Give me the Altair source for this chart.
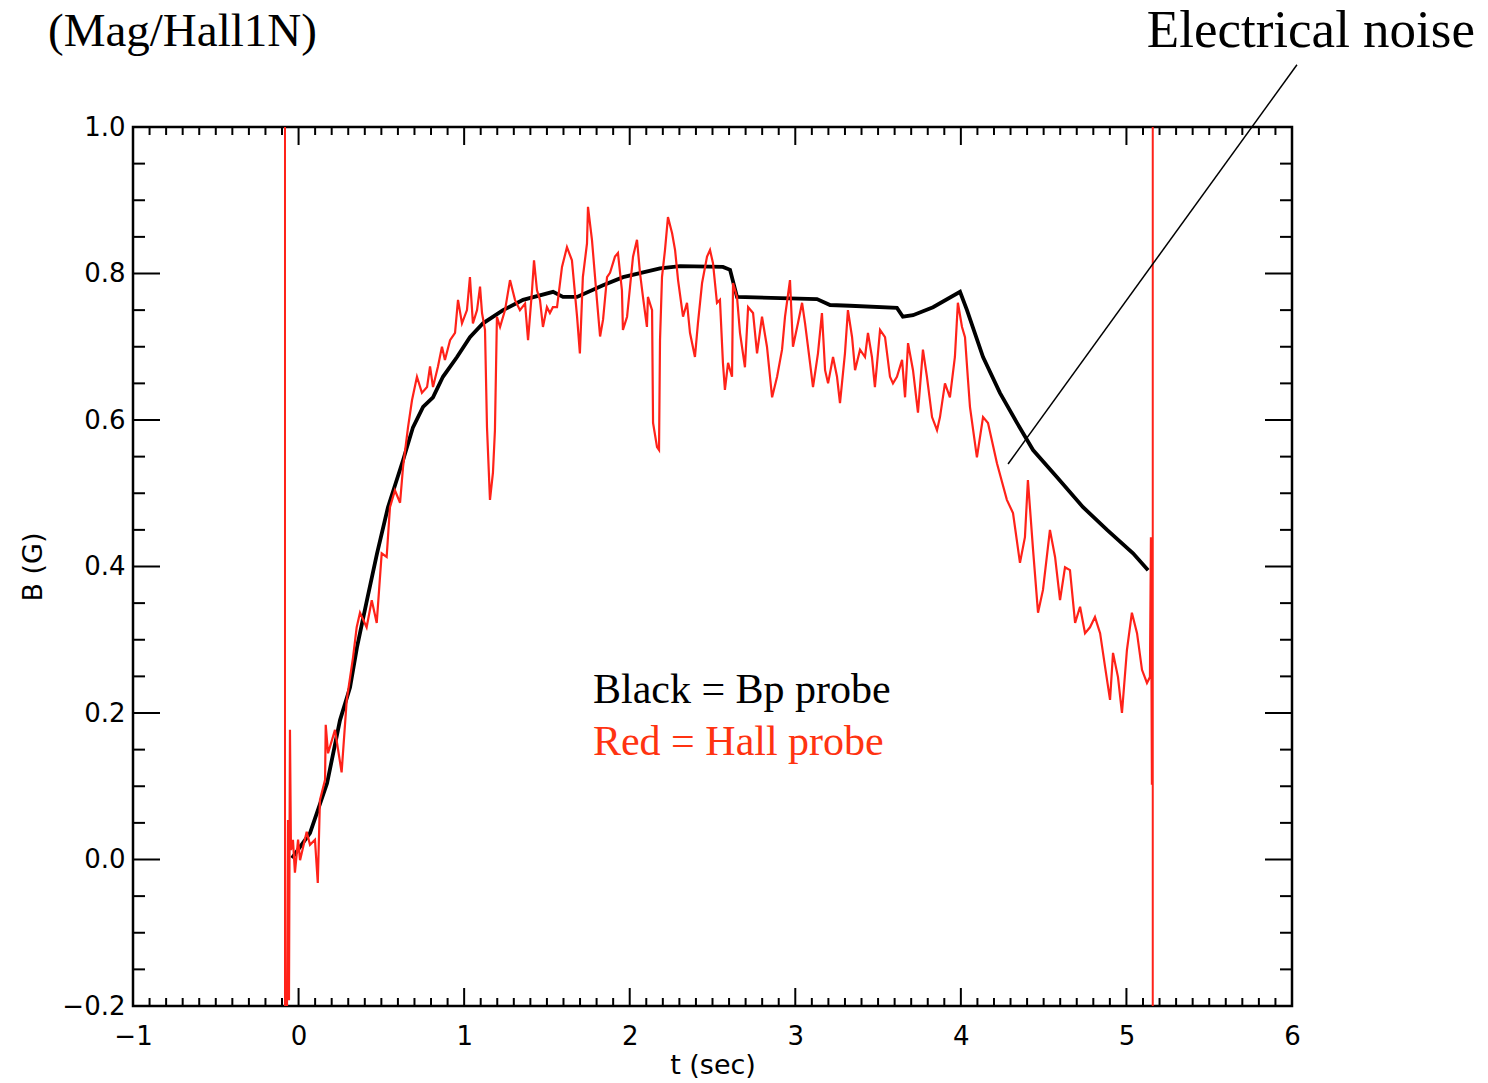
import altair as alt
import pandas as pd

# ---------------- data ----------------
black_t = [-0.040, 0.069, 0.172, 0.250, 0.311, 0.353, 0.414, 0.474, 0.540, 0.631,
           0.691, 0.752, 0.812, 0.872, 0.957, 1.035, 1.114, 1.235, 1.356, 1.537,
           1.597, 1.682, 1.839, 1.960, 2.183, 2.304, 2.563, 2.606, 2.648, 3.131,
           3.210, 3.330, 3.614, 3.650, 3.711, 3.832, 3.995, 4.037, 4.134, 4.236,
           4.339, 4.436, 4.581, 4.738, 4.883, 5.040, 5.131]
black_B = [0.002, 0.036, 0.104, 0.190, 0.235, 0.290, 0.355, 0.418, 0.481, 0.545,
           0.590, 0.618, 0.631, 0.659, 0.686, 0.713, 0.732, 0.750, 0.764, 0.775,
           0.768, 0.768, 0.784, 0.795, 0.807, 0.810, 0.809, 0.805, 0.768, 0.765,
           0.757, 0.756, 0.753, 0.741, 0.743, 0.754, 0.775, 0.750, 0.686, 0.637,
           0.596, 0.559, 0.522, 0.481, 0.450, 0.418, 0.395]

red_t = [-0.070, -0.064, -0.058, -0.052, -0.046, -0.034, -0.022, -0.003, 0.009, 0.049,
         0.069, 0.099, 0.116, 0.129, 0.160, 0.164, 0.178, 0.220, 0.260, 0.291,
         0.329, 0.351, 0.371, 0.411, 0.442, 0.472, 0.502, 0.532, 0.552, 0.582,
         0.613, 0.631, 0.661, 0.685, 0.715, 0.745, 0.776, 0.794, 0.812, 0.842,
         0.866, 0.884, 0.915, 0.945, 0.963, 0.987, 1.017, 1.035, 1.053, 1.078,
         1.096, 1.108, 1.126, 1.138, 1.156, 1.174, 1.186, 1.198, 1.217, 1.247,
         1.277, 1.307, 1.337, 1.368, 1.386, 1.410, 1.422, 1.440, 1.458, 1.476,
         1.500, 1.518, 1.536, 1.561, 1.591, 1.621, 1.651, 1.682, 1.699, 1.717,
         1.742, 1.748, 1.772, 1.802, 1.821, 1.839, 1.863, 1.881, 1.911, 1.929,
         1.953, 1.959, 1.984, 2.002, 2.020, 2.044, 2.062, 2.080, 2.104, 2.110,
         2.135, 2.141, 2.165, 2.177, 2.183, 2.195, 2.213, 2.231, 2.256, 2.274,
         2.292, 2.322, 2.346, 2.364, 2.394, 2.412, 2.437, 2.467, 2.485, 2.503,
         2.527, 2.545, 2.563, 2.575, 2.594, 2.618, 2.624, 2.648, 2.666, 2.696,
         2.715, 2.745, 2.769, 2.799, 2.829, 2.860, 2.890, 2.920, 2.938, 2.968,
         2.986, 3.016, 3.041, 3.059, 3.089, 3.107, 3.137, 3.161, 3.180, 3.198,
         3.228, 3.252, 3.270, 3.300, 3.318, 3.343, 3.361, 3.391, 3.421, 3.439,
         3.463, 3.481, 3.512, 3.542, 3.572, 3.590, 3.614, 3.645, 3.663, 3.681,
         3.711, 3.741, 3.771, 3.795, 3.826, 3.856, 3.874, 3.904, 3.934, 3.964,
         3.982, 4.007, 4.025, 4.043, 4.055, 4.097, 4.134, 4.164, 4.218, 4.278,
         4.315, 4.357, 4.387, 4.405, 4.436, 4.466, 4.496, 4.538, 4.569, 4.599,
         4.629, 4.659, 4.690, 4.720, 4.750, 4.780, 4.810, 4.841, 4.871, 4.901,
         4.919, 4.949, 4.973, 5.003, 5.033, 5.064, 5.094, 5.124, 5.142, 5.148,
         5.154]
red_B = [-0.200, 0.054, -0.192, 0.177, 0.013, 0.027, -0.018, 0.027, -0.001, 0.038,
         0.020, 0.027, -0.032, 0.081, 0.109, 0.184, 0.145, 0.177, 0.119, 0.218,
         0.276, 0.317, 0.337, 0.317, 0.354, 0.323, 0.418, 0.413, 0.481, 0.504,
         0.487, 0.536, 0.590, 0.627, 0.659, 0.637, 0.645, 0.673, 0.645, 0.673,
         0.700, 0.682, 0.709, 0.719, 0.764, 0.732, 0.750, 0.795, 0.732, 0.750,
         0.782, 0.746, 0.723, 0.590, 0.491, 0.528, 0.586, 0.741, 0.727, 0.750,
         0.791, 0.764, 0.750, 0.759, 0.709, 0.777, 0.818, 0.777, 0.764, 0.727,
         0.754, 0.746, 0.754, 0.754, 0.809, 0.836, 0.818, 0.741, 0.691, 0.795,
         0.841, 0.891, 0.846, 0.764, 0.714, 0.737, 0.795, 0.801, 0.823, 0.828,
         0.777, 0.723, 0.741, 0.782, 0.823, 0.846, 0.801, 0.768, 0.727, 0.768,
         0.750, 0.596, 0.563, 0.559, 0.709, 0.795, 0.832, 0.877, 0.855, 0.832,
         0.791, 0.741, 0.760, 0.719, 0.686, 0.732, 0.787, 0.823, 0.832, 0.814,
         0.760, 0.764, 0.678, 0.641, 0.678, 0.659, 0.787, 0.768, 0.719, 0.672,
         0.754, 0.746, 0.691, 0.741, 0.700, 0.631, 0.659, 0.696, 0.741, 0.791,
         0.700, 0.732, 0.760, 0.732, 0.678, 0.645, 0.691, 0.746, 0.668, 0.650,
         0.686, 0.659, 0.623, 0.691, 0.750, 0.713, 0.668, 0.696, 0.686, 0.719,
         0.686, 0.645, 0.723, 0.713, 0.659, 0.650, 0.659, 0.682, 0.631, 0.705,
         0.668, 0.610, 0.696, 0.659, 0.604, 0.586, 0.604, 0.650, 0.631, 0.686,
         0.760, 0.727, 0.713, 0.655, 0.618, 0.549, 0.604, 0.596, 0.541, 0.491,
         0.473, 0.405, 0.440, 0.518, 0.423, 0.337, 0.368, 0.450, 0.413, 0.354,
         0.399, 0.395, 0.323, 0.345, 0.309, 0.317, 0.331, 0.309, 0.263, 0.218,
         0.282, 0.249, 0.200, 0.286, 0.337, 0.309, 0.259, 0.241, 0.249, 0.440,
         0.102]

marker_t = [-0.082, 5.159]          # red vertical lines (start / end of shot)

x_major = [-1, 0, 1, 2, 3, 4, 5, 6]
y_major = [-0.2, 0.0, 0.2, 0.4, 0.6, 0.8, 1.0]
x_minor = [round(-1 + 0.1 * k, 2) for k in range(71) if k % 10]
y_minor = [round(-0.2 + 0.05 * k, 3) for k in range(25) if k % 4]

annot_t, annot_t2 = [6.03], [4.285]
annot_B, annot_B2 = [1.085], [0.540]

legend_text = ["Black = Bp probe", "Red = Hall probe"]
legend_t = [1.778, 1.778]
legend_B = [0.214, 0.143]

assert len(red_t) == len(red_B), (len(red_t), len(red_B))
assert len(black_t) == len(black_B), (len(black_t), len(black_B))

# ---------------- chart ----------------
W, H = 1159, 879
RED = "#ff2219"
TXT_RED = "#ff3311"
AXFONT = "DejaVu Sans"
SERIF = "Liberation Serif"

xs = alt.Scale(domain=[-1, 6], nice=False, zero=False)
ys = alt.Scale(domain=[-0.2, 1.0], nice=False, zero=False)

black_df = pd.DataFrame({"t": black_t, "B": black_B, "i": range(len(black_t))})
red_df = pd.DataFrame({"t": red_t, "B": red_B, "i": range(len(red_t))})

axis_x = alt.Axis(values=x_major, format="d", ticks=False, domain=False, grid=False,
                  labelFlush=False,
                  labelFont=AXFONT, labelFontSize=26, labelColor="black", labelPadding=17,
                  title="t (sec)", titleFont=AXFONT, titleFontSize=27,
                  titleFontWeight="normal", titleColor="black", titlePadding=3)
axis_y = alt.Axis(values=y_major, format=".1f", ticks=False, domain=False, grid=False,
                  labelFlush=False,
                  labelFont=AXFONT, labelFontSize=26, labelColor="black", labelPadding=8,
                  title="B (G)", titleFont=AXFONT, titleFontSize=27,
                  titleFontWeight="normal", titleColor="black", titlePadding=14)

X0 = alt.X("t:Q", scale=xs, axis=axis_x)
Y0 = alt.Y("B:Q", scale=ys, axis=axis_y)

black_line = alt.Chart(black_df).mark_line(color="black", strokeWidth=3.8).encode(
    x=X0, y=Y0, order="i:Q")
red_line = alt.Chart(red_df).mark_line(color=RED, strokeWidth=2.2).encode(
    x=X0, y=Y0, order="i:Q")

markers = alt.Chart(pd.DataFrame({"t": marker_t})).mark_rule(
    color=RED, strokeWidth=2).encode(x=X0)


def xticks(vals, length, top):
    df = pd.DataFrame({"t": vals})
    if top:
        yy, yy2 = alt.value(0), alt.value(length)
    else:
        yy, yy2 = alt.value(H), alt.value(H - length)
    return alt.Chart(df).mark_rule(color="black", strokeWidth=2).encode(
        x=X0, y=yy, y2=yy2)


def yticks(vals, length, right):
    df = pd.DataFrame({"B": vals})
    if right:
        xx, xx2 = alt.value(W), alt.value(W - length)
    else:
        xx, xx2 = alt.value(0), alt.value(length)
    return alt.Chart(df).mark_rule(color="black", strokeWidth=2).encode(
        y=Y0, x=xx, x2=xx2)


ticks = [
    xticks(x_major, 18, False), xticks(x_minor, 8, False),
    xticks(x_major, 18, True), xticks(x_minor, 8, True),
    yticks(y_major, 27, False), yticks(y_minor, 12, False),
    yticks(y_major, 27, True), yticks(y_minor, 12, True),
]

annot = alt.Chart(pd.DataFrame({"t": annot_t, "t2": annot_t2,
                                "B": annot_B, "B2": annot_B2})).mark_rule(
    color="black", strokeWidth=1.5).encode(
    x=X0, x2="t2:Q", y=Y0, y2="B2:Q")

legend_df = pd.DataFrame({"label": legend_text, "t": legend_t, "B": legend_B,
                          "c": ["black", TXT_RED]})
legend = alt.Chart(legend_df).mark_text(
    font=SERIF, fontSize=42, align="left", baseline="alphabetic").encode(
    x=X0, y=Y0, text="label:N", color=alt.Color("c:N", scale=None))

title_left = alt.Chart(pd.DataFrame({"label": ["(Mag/Hall1N)"]})).mark_text(
    font=SERIF, fontSize=47, align="left", baseline="alphabetic", color="black").encode(
    text="label:N", x=alt.value(-85), y=alt.value(-81))

title_right = alt.Chart(pd.DataFrame({"label": ["Electrical noise"]})).mark_text(
    font=SERIF, fontSize=53, align="right", baseline="alphabetic", color="black").encode(
    text="label:N", x=alt.value(1342), y=alt.value(-80))

chart = alt.layer(
    black_line, red_line, markers, *ticks, annot, legend, title_left, title_right
).properties(
    width=W, height=H,
    autosize=alt.AutoSizeParams(type="none"),
    padding={"left": 133, "top": 127, "right": 196, "bottom": 77},
    background="white",
).configure_view(stroke="black", strokeWidth=2.5)

chart.save("out.html", embed_options={"renderer": "svg", "actions": False})
